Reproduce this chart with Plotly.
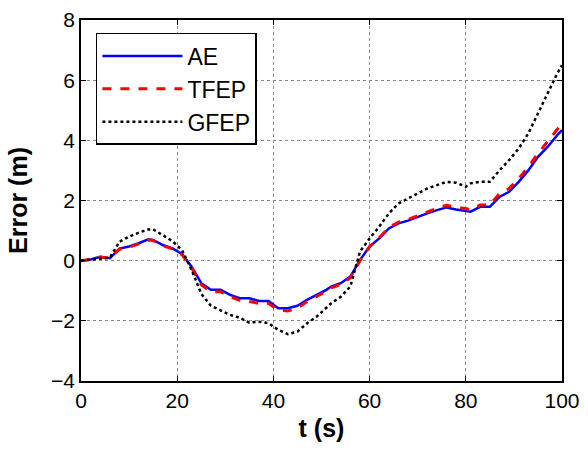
import plotly.graph_objects as go

t = [0, 2, 4, 6, 8, 10, 12, 14, 15, 17, 19, 21, 23, 25, 27, 29, 31, 33, 35, 37, 39, 41, 43, 45, 47, 49,
     51, 52, 54, 56, 58, 60, 62, 64, 66, 68, 70, 72, 74, 76, 78, 80, 81, 83, 85, 87, 89, 91, 93, 95, 97, 99, 100]

ae = [0.0, 0.04, 0.13, 0.08, 0.4, 0.47, 0.58, 0.71, 0.69, 0.52, 0.41, 0.22, -0.2, -0.75, -0.97, -0.97, -1.14,
      -1.25, -1.25, -1.34, -1.34, -1.58, -1.58, -1.5, -1.3, -1.14,
      -0.97, -0.86, -0.75, -0.53, 0.02, 0.47, 0.74, 1.07, 1.24, 1.33, 1.46, 1.57, 1.68, 1.77, 1.7, 1.66, 1.63,
      1.79, 1.79, 2.12, 2.29, 2.62, 3.0, 3.45, 3.78, 4.17, 4.34]

tfep = [0.0, 0.04, 0.12, 0.08, 0.38, 0.45, 0.56, 0.69, 0.67, 0.5, 0.39, 0.2, -0.24, -0.8, -1.03, -1.03, -1.2,
        -1.32, -1.36, -1.42, -1.42, -1.65, -1.67, -1.58, -1.36, -1.2,
        -1.02, -0.9, -0.79, -0.57, 0.0, 0.47, 0.76, 1.1, 1.28, 1.37, 1.5, 1.62, 1.74, 1.84, 1.78, 1.72, 1.7,
        1.85, 1.85, 2.23, 2.4, 2.73, 3.12, 3.56, 3.95, 4.34, 4.56]

gfep = [0.0, 0.04, 0.08, 0.1, 0.63, 0.8, 0.93, 1.04, 1.04, 0.85, 0.65, 0.35, -0.31, -1.1, -1.5, -1.65, -1.8,
        -1.9, -2.06, -2.03, -2.08, -2.3, -2.44, -2.36, -2.08, -1.86,
        -1.55, -1.42, -1.2, -0.86, 0.3, 0.74, 1.13, 1.57, 1.9, 2.07, 2.24, 2.4, 2.51, 2.62, 2.59, 2.46, 2.57,
        2.62, 2.62, 3.0, 3.34, 3.73, 4.23, 4.9, 5.56, 6.22, 6.5]

x_ticks = [0, 20, 40, 60, 80, 100]
y_ticks = [-4, -2, 0, 2, 4, 6, 8]

fig = go.Figure()
fig.add_trace(go.Scatter(x=t, y=ae, mode="lines", name="AE",
                         line=dict(color="#0000ff", width=2.5)))
fig.add_trace(go.Scatter(x=t, y=tfep, mode="lines", name="TFEP",
                         line=dict(color="#ff0000", width=3, dash="dash")))
fig.add_trace(go.Scatter(x=t, y=gfep, mode="lines", name="GFEP",
                         line=dict(color="#000000", width=2.5, dash="dot")))

axis_common = dict(
    showline=True, linecolor="black", linewidth=1.5, mirror="ticks",
    ticks="inside", ticklen=5, tickcolor="black",
    showgrid=True, gridcolor="#888888", griddash="dot", gridwidth=1,
    zeroline=False, tickfont=dict(size=21, color="black"),
    automargin=False,
)

fig.update_layout(
    width=588, height=450,
    margin=dict(l=81, r=26, t=20, b=69),
    paper_bgcolor="white", plot_bgcolor="white",
    font=dict(family="Liberation Sans, Arial, sans-serif", color="black"),
    xaxis=dict(range=[0, 100], tickvals=x_ticks,
               title=dict(text="<b>t (s)</b>", font=dict(size=25), standoff=9),
               **axis_common),
    yaxis=dict(range=[-4, 8], tickvals=y_ticks,
               title=dict(text="<b>Error (m)</b>", font=dict(size=25), standoff=16),
               **axis_common),
    legend=dict(x=0.031, y=0.964, xanchor="left", yanchor="top",
                bgcolor="white", bordercolor="black", borderwidth=1.5,
                font=dict(size=23, color="black"), itemwidth=80,
                tracegroupgap=0),
    showlegend=True,
)

fig.write_html("out.html", config={"displayModeBar": False},
               post_script="document.body.style.margin='0';document.body.style.padding='0';")
